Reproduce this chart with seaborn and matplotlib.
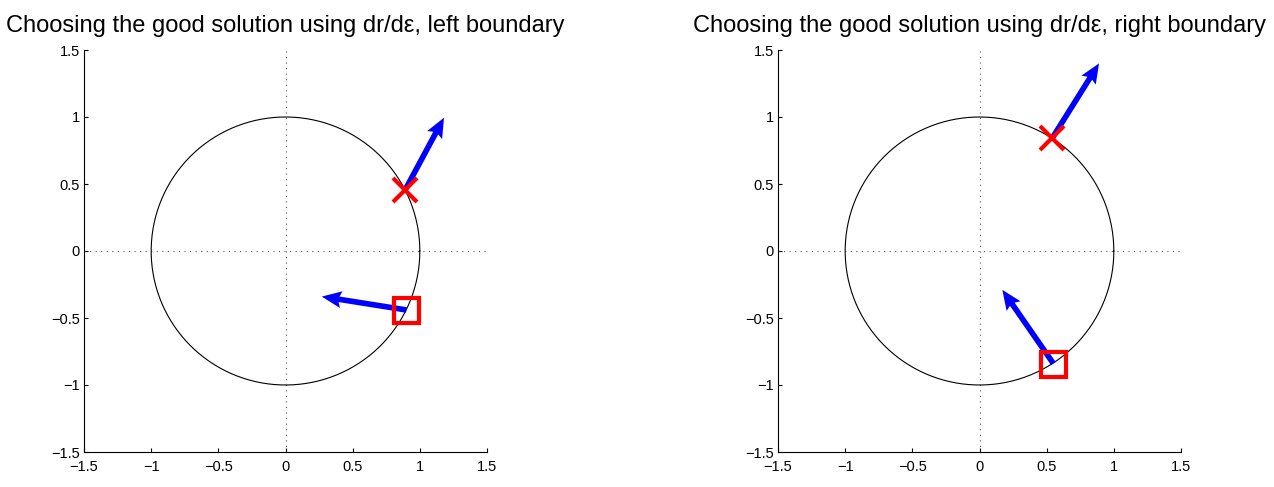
import numpy as np
import pandas as pd
import matplotlib
matplotlib.use("Agg")
import matplotlib.pyplot as plt
import seaborn as sns

# ---- data ----
titles = ["Choosing the good solution using dr/d\u03b5, left boundary",
          "Choosing the good solution using dr/d\u03b5, right boundary"]
circle_radius = 1.0
# cross marker points (x, y) and arrow vectors
cross_x = [0.89, 0.54]
cross_y = [0.455, 0.84]
cross_dx = [0.29, 0.35]
cross_dy = [0.54, 0.56]
# square marker points and arrow vectors
square_x = [0.90, 0.55]
square_y = [-0.44, -0.84]
square_dx = [-0.63, -0.38]
square_dy = [0.10, 0.55]
ticks = [-1.5, -1, -0.5, 0, 0.5, 1, 1.5]
tick_labels = ["\u22121.5", "\u22121", "\u22120.5", "0", "0.5", "1", "1.5"]

sns.set_style("white")
plt.rcParams['font.family'] = ['Liberation Sans', 'DejaVu Sans']
plt.rcParams['text.color'] = 'black'
plt.rcParams['axes.labelcolor'] = 'black'
plt.rcParams['xtick.color'] = 'black'
plt.rcParams['ytick.color'] = 'black'

fig = plt.figure(figsize=(12.74, 4.87), dpi=100)
lefts = [84 / 1274, 778 / 1274]
w = 403 / 1274
b = 35 / 487
h = 402 / 487

theta = np.linspace(0, 2 * np.pi, 400)
circ = pd.DataFrame({"x": circle_radius * np.cos(theta), "y": circle_radius * np.sin(theta)})

for i in range(2):
    ax = fig.add_axes([lefts[i], b, w, h])
    # dotted crosshair
    ax.plot([-1.5, 1.5], [0, 0], linestyle=(0, (1, 4)), color="#555555", lw=0.8)
    ax.plot([0, 0], [-1.5, 1.5], linestyle=(0, (1, 4)), color="#555555", lw=0.8)
    sns.lineplot(data=circ, x="x", y="y", sort=False, color="black", lw=0.8, ax=ax, estimator=None)
    ax.quiver([cross_x[i], square_x[i]], [cross_y[i], square_y[i]],
              [cross_dx[i], square_dx[i]], [cross_dy[i], square_dy[i]],
              angles="xy", scale_units="xy", scale=1, color="blue",
              width=0.014, headwidth=3.0, headlength=3.5, headaxislength=3.1, zorder=3)
    ax.plot([cross_x[i]], [cross_y[i]], marker="x", ms=17, mew=3, color="red", ls="none", zorder=4)
    ax.plot([square_x[i]], [square_y[i]], marker="s", ms=18, mew=3, mec="red", mfc="none", ls="none", zorder=4)
    ax.set_xlim(-1.5, 1.5)
    ax.set_ylim(-1.5, 1.5)
    ax.set_xticks(ticks)
    ax.set_xticklabels(tick_labels)
    ax.set_yticks(ticks)
    ax.set_yticklabels(tick_labels)
    ax.tick_params(direction="in", length=3, width=0.8, labelsize=10.5,
                   bottom=True, left=True, top=False, right=False, colors="black")
    ax.tick_params(axis="x", pad=6)
    ax.tick_params(axis="y", pad=3)
    for s in ["top", "right"]:
        ax.spines[s].set_visible(False)
    for s in ["left", "bottom"]:
        ax.spines[s].set_color("black")
        ax.spines[s].set_linewidth(0.8)
    ax.set_xlabel("")
    ax.set_ylabel("")
    ax.set_title(titles[i], fontsize=17, pad=13, color="black")

fig.savefig("out.png", dpi=100)
